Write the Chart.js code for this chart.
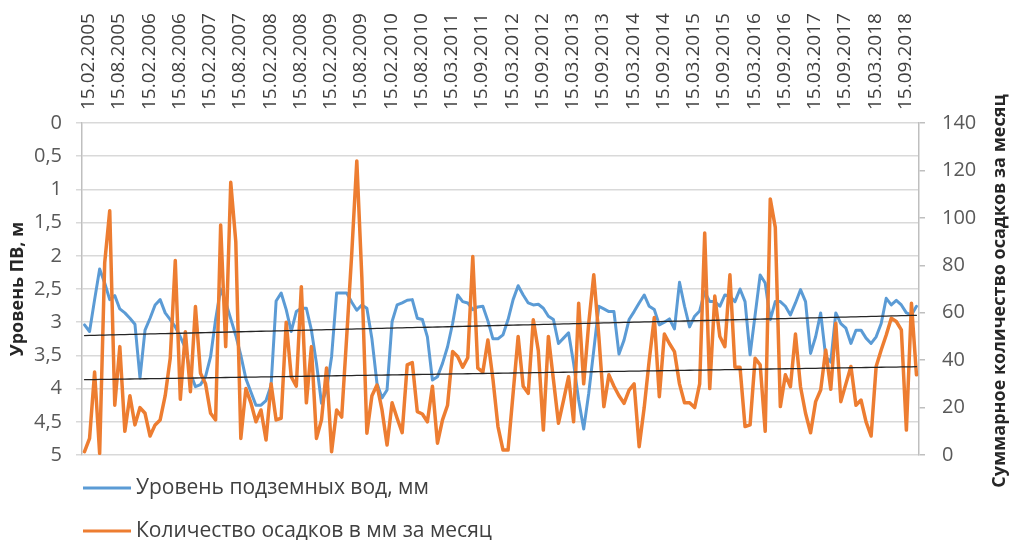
<!DOCTYPE html>
<html><head><meta charset="utf-8">
<script src="https://cdn.jsdelivr.net/npm/chart.js@4/dist/chart.umd.min.js"></script>
<style>html,body{margin:0;padding:0;background:#fff;}#wrap{width:1013px;height:540px;position:relative;}</style>
</head><body><div id="wrap"><canvas id="c" width="1013" height="540"></canvas></div>
<script>
const tickLabels = ['15.02.2005','15.08.2005','15.02.2006','15.08.2006','15.02.2007','15.08.2007','15.02.2008','15.08.2008','15.02.2009','15.08.2009','15.02.2010','15.08.2010','15.03.2011','15.09.2011','15.03.2012','15.09.2012','15.03.2013','15.09.2013','15.03.2014','15.09.2014','15.03.2015','15.09.2015','15.03.2016','15.09.2016','15.03.2017','15.09.2017','15.03.2018','15.09.2018'];

const groundwater = [3.04,3.14,2.66,2.2,2.41,2.66,2.6,2.8,2.86,2.94,3.03,3.84,3.12,2.94,2.74,2.66,2.86,2.96,3.07,3.22,3.39,3.77,3.97,3.94,3.82,3.52,2.96,2.5,2.7,2.95,
3.2,3.5,3.85,4.05,4.25,4.25,4.18,3.95,2.68,2.56,2.81,3.14,2.84,2.79,2.79,3.12,3.62,4.22,4.02,3.52,2.56,2.56,2.56,2.7,2.82,2.74,2.79,3.25,3.92,4.14,
4.02,2.99,2.74,2.71,2.67,2.66,2.94,2.96,3.22,3.87,3.82,3.62,3.37,3.02,2.59,2.69,2.71,2.81,2.77,2.76,2.98,3.25,3.25,3.19,2.96,2.66,2.45,2.59,2.71,2.74,
2.73,2.79,2.91,2.96,3.32,3.24,3.16,3.62,4.17,4.61,4.07,3.42,2.76,2.8,2.84,2.84,3.48,3.27,2.96,2.84,2.71,2.59,2.76,2.81,3.04,3.0,2.95,3.1,2.4,2.76,
3.07,2.91,2.83,2.54,2.69,2.69,2.76,2.59,2.61,2.69,2.5,2.69,3.49,2.89,2.29,2.41,2.96,2.69,2.69,2.76,2.89,2.71,2.51,2.69,3.47,3.22,2.86,3.52,3.6,2.86,
3.02,3.09,3.32,3.12,3.12,3.24,3.32,3.22,3.02,2.64,2.74,2.67,2.74,2.86,2.89,2.76];

const precipitation = [1.4,7,35,0.7,81,103,21,45.7,10,25,12.7,20,17.6,8,12.7,14.8,25,40.8,82,23.5,52,26.7,62.6,34.5,30,17.6,14.8,97,45.7,115,
90,7,28,22,14,19,6.3,30,14.8,15.5,56,33,29,71,22,45.7,7,14.8,36.7,1.4,19,16,50,85,124,75,9.2,25,29.5,19,
4.2,22,15.5,9.4,38,39,18.3,17.3,14,29,5,14.8,21,43.6,41.5,37,41,83.7,36.6,35,48.5,32,12,2.1,2.1,26,50,29,26,57,
44,10.5,50,31.7,13.4,23,33,14,64,30,55.6,76,50,20.4,33.8,29,25,21.8,27.4,30,3.5,20,40,58,24.6,51,47,43.6,30,22,
22,20,30,93.6,28,67,50,45.7,76,37,37,12,12.7,40.8,38,10,108,96,20.4,33.8,28.8,51,28.8,17.6,9.4,22.5,27.4,44.3,27.7,55.6,
22.5,30,37.3,21,23.2,14,8,37.3,44.3,50.6,57.7,56.3,52.8,10.5,64,33.8];

const seriesNames = ['Уровень подземных вод, мм','Количество осадков в мм за месяц'];
const leftTitle = 'Уровень ПВ, м';
const rightTitle = 'Суммарное количество осадков за месяц';

const N = groundwater.length;
const categories = Array.from({length: N}, (_, i) => (i % 6 === 0 && tickLabels[i / 6]) ? tickLabels[i / 6] : '');

function trend(arr) {
  const n = arr.length;
  let sx = 0, sy = 0, sxx = 0, sxy = 0;
  arr.forEach((v, i) => { sx += i; sy += v; sxx += i * i; sxy += i * v; });
  const b = (n * sxy - sx * sy) / (n * sxx - sx * sx);
  const a = (sy - b * sx) / n;
  return arr.map((_, i) => a + b * i);
}

const FONT = '"Open Sans", "Noto Sans", sans-serif';
const colBlue = '#5B9BD5', colOrange = '#ED7D31';

const extras = {
  id: 'extras',
  afterDraw(chart) {
    const ctx = chart.ctx;
    ctx.save();
    ctx.translate(1000, 291);
    ctx.rotate(-Math.PI / 2);
    ctx.font = 'bold 18px ' + FONT;
    ctx.fillStyle = '#262626';
    ctx.textAlign = 'center';
    ctx.textBaseline = 'middle';
    ctx.fillText(rightTitle, 0, 0);
    ctx.restore();
    ctx.save();
    const items = [[seriesNames[0], colBlue, 488], [seriesNames[1], colOrange, 531]];
    ctx.font = '21px ' + FONT;
    ctx.textBaseline = 'middle';
    ctx.textAlign = 'left';
    items.forEach(([t, c, y]) => {
      ctx.strokeStyle = c; ctx.lineWidth = 3; ctx.lineCap = 'butt';
      ctx.beginPath(); ctx.moveTo(83, y); ctx.lineTo(131, y); ctx.stroke();
      ctx.fillStyle = '#404040';
      ctx.fillText(t, 136, y);
    });
    ctx.restore();
  }
};

function build() {
  new Chart(document.getElementById('c'), {
    type: 'line',
    data: {
      labels: categories,
      datasets: [
        {label: 'trend1', data: trend(groundwater), yAxisID: 'y', borderColor: '#262626', borderWidth: 1.3, order: 0},
        {label: 'trend2', data: trend(precipitation), yAxisID: 'y1', borderColor: '#262626', borderWidth: 1.3, order: 0},
        {label: seriesNames[1], data: precipitation, yAxisID: 'y1', borderColor: colOrange, borderWidth: 3.5, order: 1},
        {label: seriesNames[0], data: groundwater, yAxisID: 'y', borderColor: colBlue, borderWidth: 3, order: 2}
      ]
    },
    options: {
      responsive: false,
      animation: false,
      layout: {padding: {left: 0, right: 0, top: 0, bottom: 85}},
      plugins: {legend: {display: false}, tooltip: {enabled: false}},
      elements: {point: {radius: 0}, line: {tension: 0, borderJoinStyle: 'round', borderCapStyle: 'round'}},
      scales: {
        x: {
          type: 'category', position: 'top', offset: true,
          grid: {display: false, drawTicks: false}, border: {display: false},
          ticks: {autoSkip: false, minRotation: 90, maxRotation: 90, padding: 13, labelOffset: 27, color: '#404040', font: {family: FONT, size: 19}},
          afterFit(s) { s.height = 123; }
        },
        y: {
          position: 'left', reverse: true, min: 0, max: 5,
          ticks: {stepSize: 0.5, padding: 14, color: '#595959', font: {family: FONT, size: 20},
                  callback: v => String(Math.round(v * 10) / 10).replace('.', ',')},
          grid: {color: '#d9d9d9', lineWidth: 1.5, tickLength: 6},
          border: {color: '#bfbfbf', width: 1.5},
          title: {display: true, text: leftTitle, color: '#262626', padding: {top: 7, bottom: 0}, font: {family: FONT, size: 18, weight: 'bold'}},
          afterFit(s) { s.width = 82; }
        },
        y1: {
          position: 'right', min: 0, max: 140,
          ticks: {stepSize: 20, padding: 17, color: '#595959', font: {family: FONT, size: 20}},
          grid: {drawOnChartArea: false, color: '#bfbfbf', lineWidth: 1.5, tickLength: 6},
          border: {color: '#bfbfbf', width: 1.5},
          afterFit(s) { s.width = 94; }
        }
      }
    },
    plugins: [extras]
  });
}
Promise.all([document.fonts.load('20px "Open Sans"'), document.fonts.load('bold 18px "Open Sans"')]).then(build, build);
</script>
</body></html>
